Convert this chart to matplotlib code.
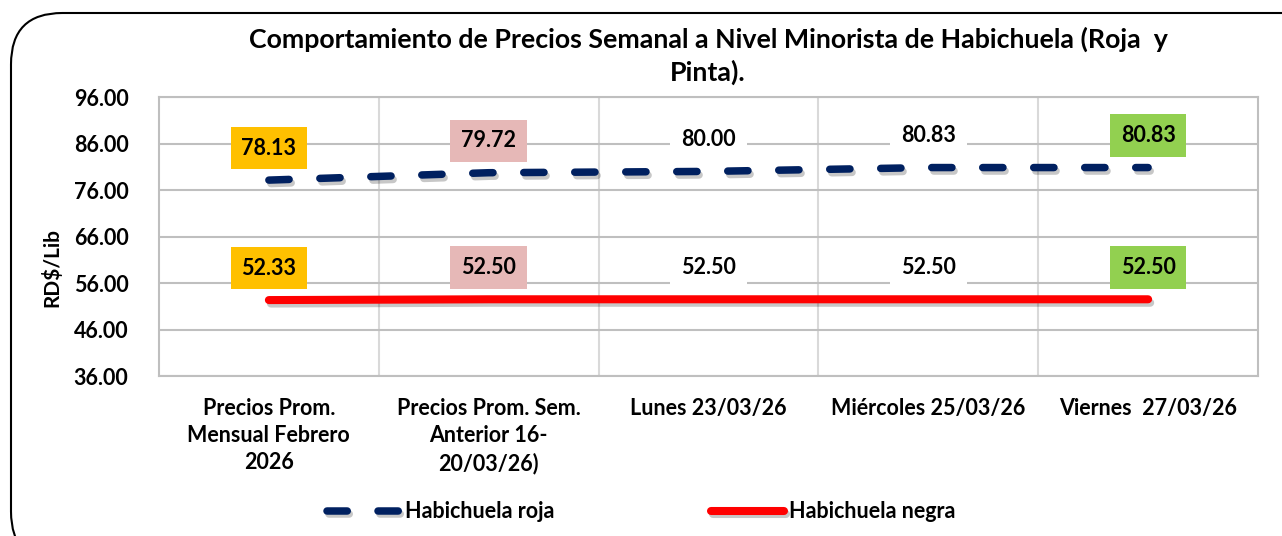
import numpy as np
import matplotlib
matplotlib.use("Agg")
import matplotlib.pyplot as plt
import matplotlib.patheffects as pe
from matplotlib.patches import FancyBboxPatch

plt.rcParams['font.family'] = ['Lato', 'DejaVu Sans']
plt.rcParams['font.weight'] = 'bold'

categorias = ["Precios Prom.\nMensual Febrero\n2026",
              "Precios Prom. Sem.\nAnterior 16-\n20/03/26)",
              "Lunes 23/03/26",
              "Miércoles 25/03/26",
              "Viernes  27/03/26"]
roja = [78.13, 79.72, 80.00, 80.83, 80.83]
negra = [52.33, 52.50, 52.50, 52.50, 52.50]
colores_etiqueta = ["#FFC000", "#E6B8B7", "white", "white", "#92D050"]

titulo = "Comportamiento de Precios Semanal a Nivel Minorista de Habichuela (Roja  y\nPinta)."

fig = plt.figure(figsize=(12.82, 5.36), dpi=100)
ax = fig.add_axes([0.124, 0.2985, 0.8573, 0.5205])

x = np.arange(len(categorias))
sombra = [pe.SimpleLineShadow(offset=(1.5, -2.5), shadow_color='black', alpha=0.22), pe.Normal()]

l1, = ax.plot(x, roja, color='#002060', lw=5.4, linestyle=(0, (2.7, 4.1)),
              dash_capstyle='round', solid_capstyle='round', label='Habichuela roja',
              path_effects=sombra, zorder=3)
l2, = ax.plot(x, negra, color='#FF0000', lw=5.8, solid_capstyle='round',
              label='Habichuela negra', path_effects=sombra, zorder=3)

for serie in (roja, negra):
    for i, v in enumerate(serie):
        ax.annotate(f"{v:.2f}", (x[i], v), xytext=(0, 23), textcoords='offset points',
                    ha='center', va='center', fontsize=15.5, fontweight='bold',
                    bbox=dict(boxstyle='square,pad=0.5', fc=colores_etiqueta[i], ec='none'),
                    zorder=4)

ax.set_xlim(-0.5, 4.5)
ax.set_ylim(36, 96)
ax.set_yticks(np.arange(36, 97, 10))
ax.set_yticklabels([f"{t:.2f}" for t in np.arange(36, 97, 10)])
ax.set_xticks(x)
ax.set_xticklabels(categorias, linespacing=1.35)
ax.set_xticks(np.arange(0.5, 4.5, 1), minor=True)
ax.tick_params(axis='both', which='both', length=0, labelsize=15.5)
ax.tick_params(axis='x', pad=16)
ax.tick_params(axis='y', pad=22)
ax.grid(axis='y', which='major', color='#BFBFBF', lw=1.5)
ax.grid(axis='x', which='minor', color='#D9D9D9', lw=1.5)
ax.set_axisbelow(True)
for s in ax.spines.values():
    s.set_color('#BFBFBF')
    s.set_linewidth(1.5)

ax.set_ylabel("RD$/Lib", fontsize=15, fontweight='bold')
ax.yaxis.set_label_coords(-0.088, 0.39)

fig.text(708 / 1282, 1 - 56 / 536, titulo, ha='center', va='center',
         fontsize=19.3, fontweight='bold', linespacing=1.35)

fig.legend(handles=[l1, l2], loc='center', bbox_to_anchor=(0.5, 0.045), ncol=2,
           frameon=False, fontsize=15.5, handlelength=3.4, handletextpad=0.2,
           columnspacing=7.3)

borde = FancyBboxPatch((11 / 1282, -0.05), 1.05, 1 - 13 / 536 + 0.05,
                       boxstyle='round,pad=0,rounding_size=0.04',
                       transform=fig.transFigure, fc='none', ec='black', lw=1.5,
                       mutation_aspect=1282 / 536)
fig.patches.append(borde)

fig.savefig("out.png", dpi=100)
